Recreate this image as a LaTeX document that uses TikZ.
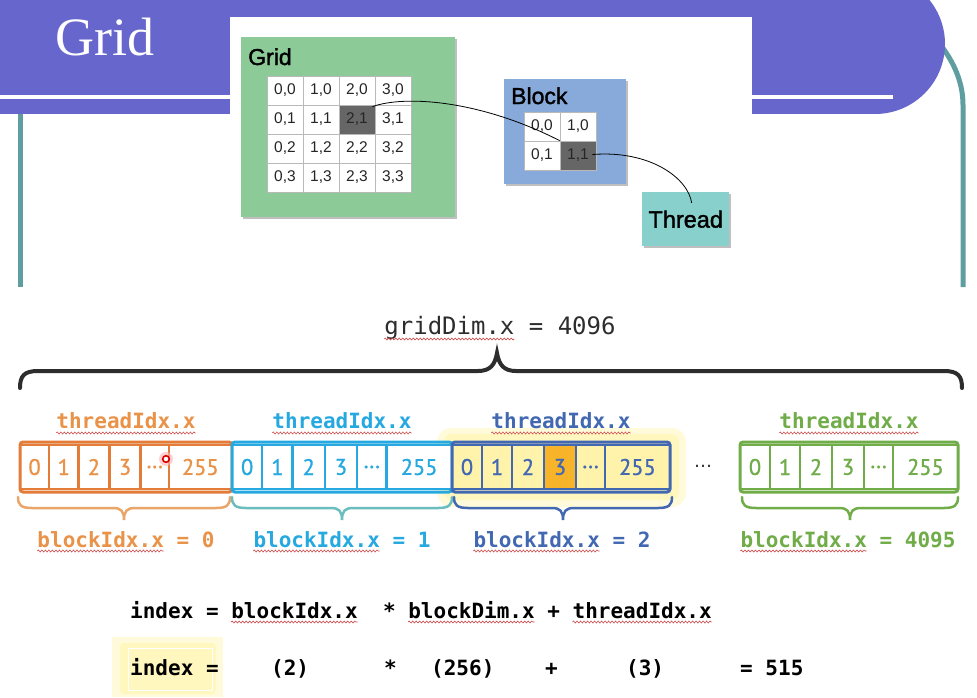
\documentclass[tikz,border=0pt]{standalone}
\usepackage{fontspec}
\setmainfont{Liberation Serif}
\newfontfamily\hv{Liberation Sans}
\newfontfamily\hvm[FakeBold=1.6]{Liberation Sans}
\newfontfamily\mono{DejaVu Sans Mono}
\newfontfamily\djs{DejaVu Sans}
\newfontfamily\pts[FakeBold=1]{PT Sans}
\usetikzlibrary{decorations.pathmorphing,calc,shadows}

\definecolor{banner}{RGB}{102,102,204}
\definecolor{frame}{RGB}{95,158,160}
\definecolor{gridg}{RGB}{140,202,152}
\definecolor{blockb}{RGB}{136,170,218}
\definecolor{threadt}{RGB}{136,208,204}
\definecolor{cellbd}{RGB}{185,185,185}
\definecolor{darkcell}{RGB}{102,102,102}
\definecolor{corange}{RGB}{226,124,56}
\definecolor{torange}{RGB}{233,146,72}
\definecolor{borange}{RGB}{234,165,105}
\definecolor{ccyan}{RGB}{38,168,224}
\definecolor{bcyan}{RGB}{108,190,190}
\definecolor{cdblue}{RGB}{66,104,178}
\definecolor{cgreen}{RGB}{112,172,72}
\definecolor{wavy}{RGB}{205,70,70}
\definecolor{ink}{RGB}{45,45,45}
\definecolor{hl}{RGB}{247,180,40}
\definecolor{cellyel}{RGB}{255,242,170}
\definecolor{glowa}{RGB}{255,251,218}
\definecolor{glowb}{RGB}{255,247,190}

\newcommand\cudablock[7]{%
  \foreach \a/\b/\t [count=\k] in {0/0.1376/0,0.1376/0.2752/1,0.2752/0.4220/2,0.4220/0.5688/3,0.5688/0.7018/…,0.7018/1/255}{%
    \ifnum\k=#7\relax\def\cf{hl}\else\def\cf{#6}\fi
    \node[numcell, draw=#4, text=#5, fill=\cf, minimum width={(\b-\a)*#3}] (#1-\k) at ({#2+(\a+\b)/2*#3},467) {\t};
  }%
  \draw[#4, line width=3pt, rounded corners=3pt] (#2,442) rectangle ({#2+#3},492);
}
\newcommand\bracedown[3]{%
  \draw[#3, line width=2.5pt, line cap=round]
    (#1,497) .. controls (#1,505) and ({#1+3},508) .. ({#1+14},508)
    -- ({(#1+#2)/2-11},508) .. controls ({(#1+#2)/2-3},508) and ({(#1+#2)/2},511) .. ({(#1+#2)/2},520)
    .. controls ({(#1+#2)/2},511) and ({(#1+#2)/2+3},508) .. ({(#1+#2)/2+11},508)
    -- ({#2-14},508) .. controls ({#2-3},508) and (#2,505) .. (#2,497);
}

\begin{document}
\begin{tikzpicture}[x=1pt,y=-1pt,
  gcell/.style={draw=cellbd, line width=0.8pt, fill=white, minimum width=36pt, minimum height=29pt, inner sep=0pt, font=\hv\fontsize{15.5}{16}\selectfont, text=black!85},
  dcell/.style={gcell, fill=darkcell},
  boxlab/.style={inner sep=0pt, anchor=base west, font=\hvm\fontsize{23}{25}\selectfont, text=black},
  bigbox/.style={inner sep=0pt, anchor=north west, drop shadow={shadow xshift=1.5pt, shadow yshift=-2pt, fill=black, opacity=0.25}},
  numcell/.style={line width=2.4pt, minimum height=44pt, inner sep=0pt, font=\pts\fontsize{22.5}{24}\selectfont},
  monolab/.style={inner sep=0pt, anchor=base, font=\mono\bfseries\fontsize{21}{24}\selectfont},
  formula/.style={inner sep=0pt, anchor=base west, font=\mono\bfseries\fontsize{21}{24}\selectfont, text=black},
  wave/.style={draw=wavy, line width=0.6pt, decorate, decoration={snake, segment length=3.5pt, amplitude=1pt}},
  link/.style={draw=black, line width=0.8pt},
]
\useasboundingbox (0,0) rectangle (977,697);
\fill[white] (0,0) rectangle (977,697);

% ---------- slide frame ----------
\draw[frame, line width=5pt] (935,38) .. controls (952,58) and (963,80) .. (963,105) -- (963,287);
\draw[frame, line width=5pt] (20,110) -- (20,287);
\begin{scope}
  \clip (0,0) rectangle (977,114);
  \fill[banner] (0,0) rectangle (880,114);
  \fill[banner] (875,44) circle[radius=70];
\end{scope}
\fill[white] (0,95) rectangle (893,99);
\node[inner sep=0pt, anchor=base west, text=white, font=\fontsize{54}{60}\selectfont] (title) at (55,55) {Grid};

% ---------- inset picture ----------
\fill[white] (230,17) rectangle (752,287);
\node[bigbox, fill=gridg, minimum width=214pt, minimum height=180pt] (gridbox) at (241,37) {};
\node[boxlab] (gridlab) at (248,65) {Grid};
\foreach \i in {0,...,3}{
  \foreach \j in {0,...,3}{
    \node[gcell] (g-\i-\j) at ({285+36*\i},{90.5+29*\j}) {\i,\j};
  }
}
\node[dcell] (g-2-1) at ({285+72},{90.5+29}) {2,1};

\node[bigbox, fill=blockb, minimum width=122pt, minimum height=105pt] (blockbox) at (504,79) {};
\node[boxlab] (blocklab) at (511,104) {Block};
\foreach \i in {0,1}{
  \foreach \j in {0,1}{
    \node[gcell] (b-\i-\j) at ({542+36*\i},{126.5+29*\j}) {\i,\j};
  }
}
\node[dcell] (b-1-1) at (578,155.5) {1,1};

\node[bigbox, fill=threadt, minimum width=87pt, minimum height=54pt] (thread) at (642,192) {};
\node[inner sep=0pt, font=\hvm\fontsize{23.5}{25}\selectfont] (threadlab) at (thread.center) {Thread};

\draw[link] ([xshift=-3pt,yshift=-2pt]g-2-1.north east) .. controls (405,95) and (480,100) .. (b-1-1.north west);
\draw[link] ([xshift=-4pt,yshift=1pt]b-1-1.east) .. controls (650,150) and (688,178) .. ([xshift=6pt,yshift=-11pt]thread.north);

% ---------- gridDim ----------
\node[inner sep=0pt, anchor=base, font=\mono\fontsize{24}{26}\selectfont, text=ink] (gd) at (500,334) {gridDim.x = 4096};
\draw[wave] ($(gd.base west)+(0,5)$) -- ++(130,0);
\draw[ink, line width=4pt, line cap=round]
  (20,388) .. controls (20,376) and (24,371) .. (38,371) -- (478,371)
  .. controls (490,371) and (495,365) .. (497,353)
  .. controls (499,365) and (504,371) .. (516,371) -- (944,371)
  .. controls (958,371) and (962,376) .. (962,388);

% ---------- blocks ----------
\fill[glowa, rounded corners=14pt] (437,428) rectangle (686,507);
\fill[glowb, rounded corners=8pt] (444,434) rectangle (679,500);
\cudablock{ob}{20}{212}{corange}{torange}{white}{0}
\cudablock{cb}{232}{220}{ccyan}{ccyan}{white}{0}
\cudablock{db}{452}{218}{cdblue}{cdblue}{cellyel}{4}
\cudablock{gb}{740}{218}{cgreen}{cgreen}{white}{0}
\node[inner sep=0pt, font=\djs\fontsize{18}{20}\selectfont, text=ink] (gap) at (703,466) {…};

% pointer dot
\fill[red!30, opacity=0.6] (166,459) circle[radius=7];
\draw[red!85!black, line width=1.6pt, fill=white] (166,459) circle[radius=3.3];

% threadIdx labels
\node[monolab, text=torange] (t0) at (126,428) {threadIdx.x};
\node[monolab, text=ccyan] (t1) at (342,428) {threadIdx.x};
\node[monolab, text=cdblue] (t2) at (561,428) {threadIdx.x};
\node[monolab, text=cgreen] (t3) at (849,428) {threadIdx.x};
\foreach \n in {t0,t1,t2,t3}{
  \draw[wave] ($(\n.base west)+(0,5)$) -- ($(\n.base east)+(0,5)$);
}

% braces
\bracedown{18}{230}{borange}
\bracedown{232}{452}{bcyan}
\bracedown{454}{672}{cdblue}
\bracedown{742}{958}{cgreen}

% blockIdx labels
\node[monolab, text=torange] (k0) at (126,547) {blockIdx.x = 0};
\node[monolab, text=ccyan] (k1) at (342,547) {blockIdx.x = 1};
\node[monolab, text=cdblue] (k2) at (562,547) {blockIdx.x = 2};
\node[monolab, text=cgreen] (k3) at (848,547) {blockIdx.x = 4095};
\foreach \n in {k0,k1,k2,k3}{
  \draw[wave] ($(\n.base west)+(0,4)$) -- ++(126.4,0);
}

% ---------- formulas ----------
\node[formula] (f1) at (130,618) {index = blockIdx.x\ \ * blockDim.x + threadIdx.x};
\draw[wave] ($(f1.base west)+(101.1,4)$) -- ++(126.4,0);
\draw[wave] ($(f1.base west)+(278.1,4)$) -- ++(126.4,0);
\draw[wave] ($(f1.base west)+(442.5,4)$) -- ++(139,0);

\fill[glowa] (112,637) rectangle (223,697);
\fill[glowb, rounded corners=4pt] (120,643) rectangle (216,694);
\draw[white, line width=0.8pt] (128,648) rectangle (212,690);
\node[formula] (f2a) at (130,675) {index =};
\node[formula] (f2b) at (271,675) {(2)};
\node[formula] (f2c) at (384,675) {*};
\node[formula] (f2d) at (431,675) {(256)};
\node[formula] (f2e) at (545,675) {+};
\node[formula] (f2f) at (626,675) {(3)};
\node[formula] (f2g) at (740,675) {= 515};
\end{tikzpicture}
\end{document}
